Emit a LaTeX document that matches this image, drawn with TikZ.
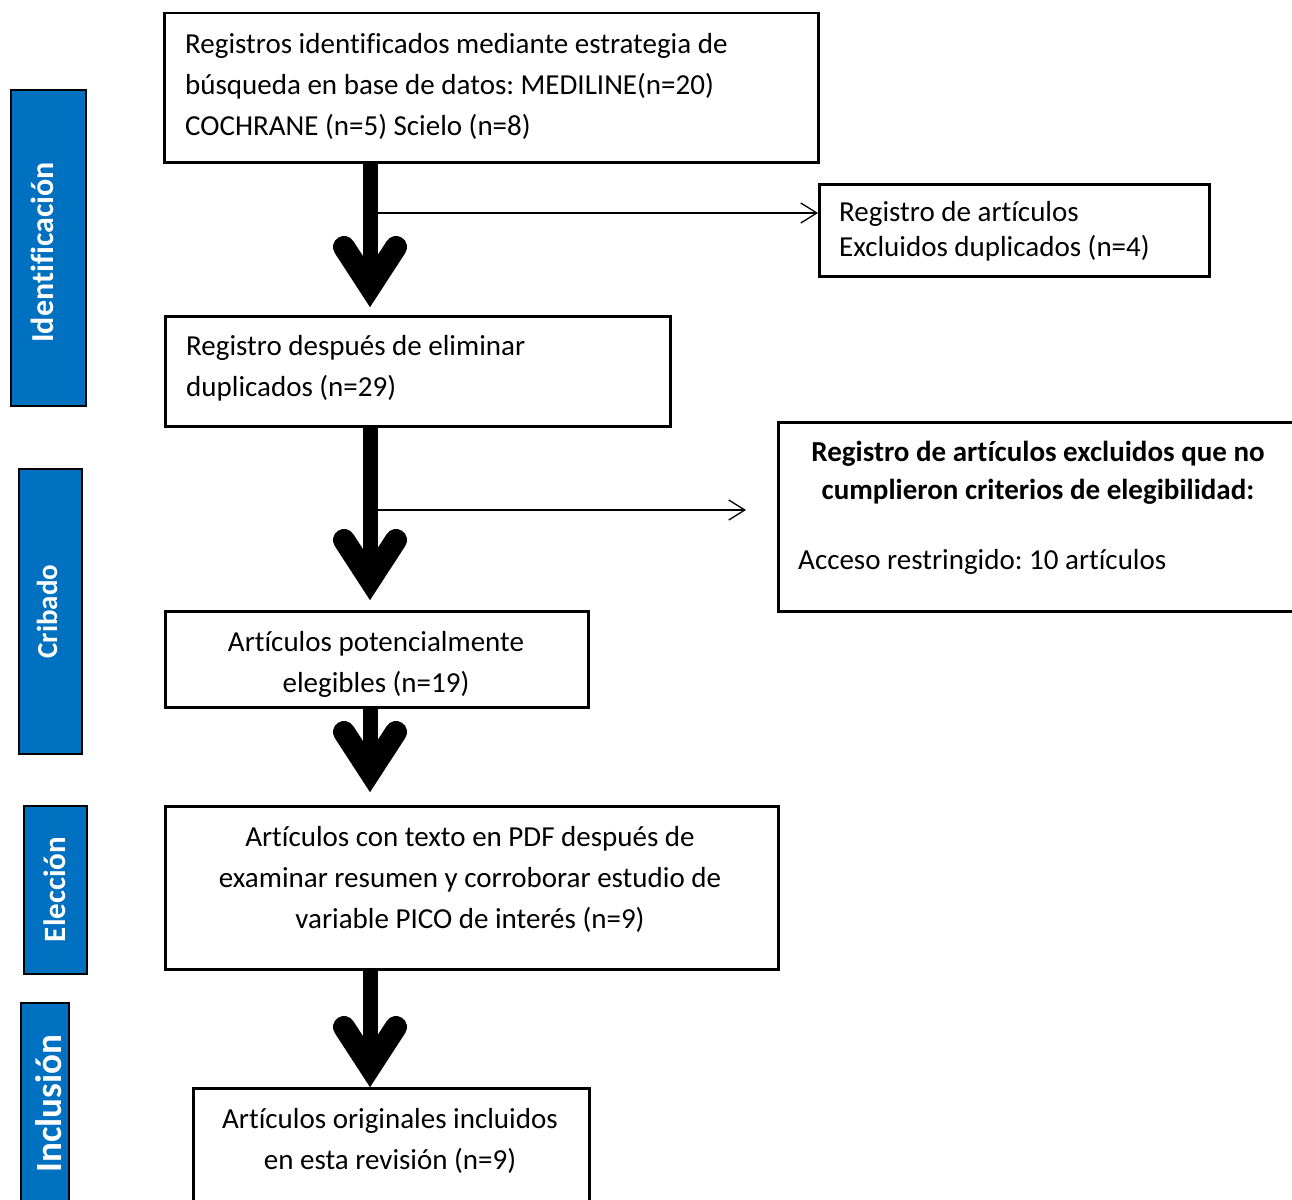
\documentclass[tikz,border=0pt]{standalone}
\usepackage{fontspec}
\setmainfont[Ligatures=NoCommon]{Carlito}
\usetikzlibrary{arrows.meta,calc}
\definecolor{phaseblue}{HTML}{0070C0}
\frenchspacing
\begin{document}
\frenchspacing
\begin{tikzpicture}[x=1pt,y=-1pt,
  box/.style={draw=black, line width=2.5pt, anchor=north west, inner sep=0pt},
  phase/.style={draw=black, line width=2.2pt, fill=phaseblue, anchor=north west, inner sep=0pt},
  phasetext/.style={text=white, rotate=90, anchor=base, inner sep=0pt},
  txt/.style={inner sep=0pt, font=\fontsize{29}{41}\selectfont},
  shaft/.style={line width=15pt},
  thinarrow/.style={line width=1.3pt, -{Straight Barb[length=16pt,width=20pt]}},
  pics/bighead/.style={code={\draw[line width=22pt, line cap=round, line join=miter] (-26,-60) -- (0,-20) -- (26,-60);}}
]
\path[use as bounding box] (0,0) rectangle (1292,1199);
\clip (0,0) rectangle (1292,1199);

% phase labels
\node[phase, minimum width=75pt, minimum height=316pt] (l1) at (10,89) {};
\node[phase, minimum width=63pt, minimum height=285pt] (l2) at (18,468) {};
\node[phase, minimum width=63pt, minimum height=168pt] (l3) at (23,805) {};
\node[phase, minimum width=48pt, minimum height=215pt] (l4) at (20,1002) {};
\node[phasetext, font=\bfseries\fontsize{32}{38}\selectfont] (lt1) at (53,252.5) {Identificación};
\node[phasetext, font=\bfseries\fontsize{29}{35}\selectfont] (lt2) at (57,611.5) {Cribado};
\node[phasetext, font=\bfseries\fontsize{31}{37}\selectfont] (lt3) at (65,889.5) {Elección};
\node[phasetext, font=\bfseries\fontsize{37}{44}\selectfont] (lt4) at (61,1103.5) {Inclusión};

% boxes
\node[box, minimum width=654pt, minimum height=149pt] (b1) at (163,12) {};
\node[box, minimum width=390pt, minimum height=92pt] (b2) at (818,183) {};
\node[box, minimum width=505pt, minimum height=110pt] (b3) at (164,315) {};
\node[box, minimum width=523pt, minimum height=189pt] (b4) at (777,421) {};
\node[box, minimum width=423pt, minimum height=96pt] (b5) at (164,610) {};
\node[box, minimum width=613pt, minimum height=163pt] (b6) at (164,805) {};
\node[box, minimum width=396pt, minimum height=118pt] (b7) at (192,1087) {};

% texts (anchor base = baseline of the last line)
\node[txt, align=left, anchor=base west] (t1) at (185,135) {Registros identificados mediante estrategia de\\búsqueda en base de datos: MEDILINE(n=20)\\COCHRANE (n=5) Scielo (n=8)};
\node[txt, align=left, anchor=base west, font=\fontsize{29}{35}\selectfont] (t2) at (839,256) {Registro de artículos\\Excluidos duplicados (n=4)};
\node[txt, align=left, anchor=base west] (t3) at (186,396) {Registro después de eliminar\\duplicados (n=29)};
\node[txt, align=center, anchor=base, font=\bfseries\fontsize{29}{38}\selectfont] (t4h) at (1038,499) {Registro de artículos excluidos que no\\cumplieron criterios de elegibilidad:};
\node[txt, anchor=base west] (t4) at (798,569) {Acceso restringido: 10 artículos};
\node[txt, align=center, anchor=base] (t5) at (376,692) {Artículos potencialmente\\elegibles (n=19)};
\node[txt, align=center, anchor=base] (t6) at (470,928) {Artículos con texto en PDF después de\\examinar resumen y corroborar estudio de\\variable PICO de interés (n=9)};
\node[txt, align=center, anchor=base, font=\fontsize{29}{41}\selectfont] (t7) at (390,1169) {Artículos originales incluidos\\en esta revisión (n=9)};

% big arrows
\coordinate (ax) at (370,0);
\coordinate (h1) at ($(b3.north -| ax)+(0,-8)$);
\coordinate (h2) at ($(b5.north -| ax)+(0,-10)$);
\coordinate (h3) at ($(b6.north -| ax)+(0,-13)$);
\coordinate (h4) at (b7.north -| ax);
\draw[shaft] (b1.south -| ax) -- ($(h1)+(0,-25)$);
\draw[shaft] (b3.south -| ax) -- ($(h2)+(0,-25)$);
\draw[shaft] (b5.south -| ax) -- ($(h3)+(0,-25)$);
\draw[shaft] (b6.south -| ax) -- ($(h4)+(0,-25)$);
\pic at (h1) {bighead};
\pic at (h2) {bighead};
\pic at (h3) {bighead};
\pic at (h4) {bighead};

% thin arrows
\coordinate (j1) at (378,213);
\coordinate (j2) at (378,510);
\draw[thinarrow] (j1) -- (j1 -| b2.west);
\draw[thinarrow] (j2) -- ($(j2 -| b4.west)+(-31,0)$);
\end{tikzpicture}
\end{document}
